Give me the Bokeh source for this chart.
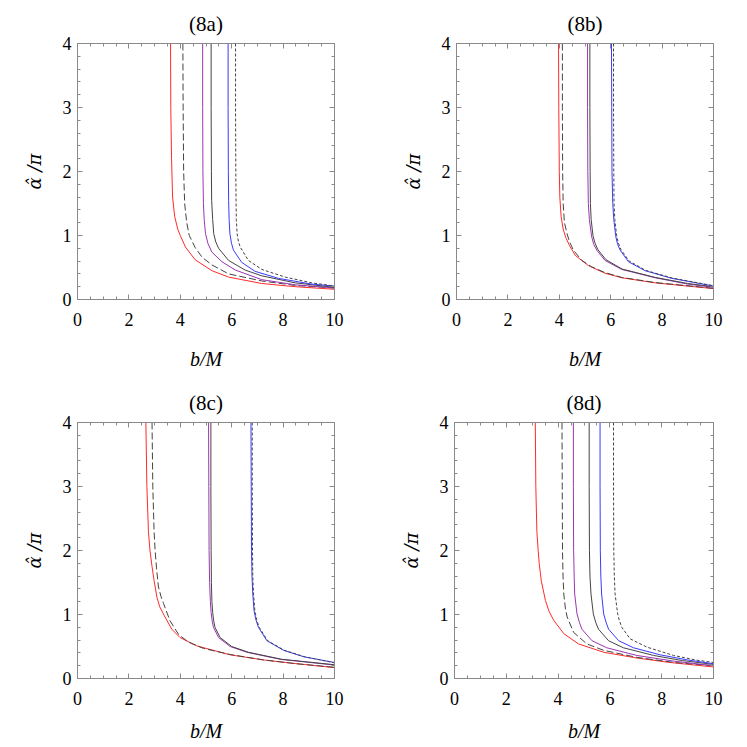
from bokeh.plotting import figure
from bokeh.models import (Range1d, LinearAxis, SingleIntervalTicker, Title,
                          CustomJSTickFormatter)
from bokeh.layouts import column, row
from bokeh.embed import file_html
from bokeh.resources import INLINE

# ---------------- data ----------------
PANEL_TITLES = ["(8a)", "(8b)", "(8c)", "(8d)"]
X_LABEL = "b/M"
Y_LABEL = "\u03b1\u0302 /\u03c0"

# order of curves in each panel: red, long dash, purple, black, blue, short dash
# panel (8a)
a_red_b = [3.62, 3.63, 3.66, 3.70, 3.78, 3.90, 4.00, 4.20, 4.58, 5.23, 5.88, 7.17, 8.47, 10.0]
a_red_y = [4.00, 3.00, 2.20, 1.60, 1.30, 1.10, 1.00, 0.82, 0.62, 0.45, 0.35, 0.25, 0.20, 0.16]
a_ldash_b = [4.10, 4.11, 4.13, 4.17, 4.25, 4.35, 4.58, 4.85, 5.23, 5.88, 7.17, 8.47, 10.0]
a_ldash_y = [4.00, 3.00, 2.00, 1.50, 1.20, 1.00, 0.81, 0.66, 0.54, 0.40, 0.29, 0.22, 0.18]
a_purple_b = [4.87, 4.87, 4.88, 4.90, 4.93, 4.98, 5.08, 5.23, 5.62, 6.14, 7.17, 8.47, 10.0]
a_purple_y = [4.00, 3.00, 2.00, 1.50, 1.25, 1.03, 0.87, 0.74, 0.59, 0.46, 0.31, 0.23, 0.18]
a_black_b = [5.20, 5.20, 5.21, 5.22, 5.26, 5.30, 5.38, 5.49, 5.88, 6.52, 7.17, 8.47, 10.0]
a_black_y = [4.00, 3.00, 2.00, 1.55, 1.25, 1.03, 0.90, 0.80, 0.61, 0.46, 0.37, 0.26, 0.19]
a_blue_b = [5.86, 5.86, 5.87, 5.88, 5.90, 5.93, 5.99, 6.07, 6.39, 6.91, 7.82, 9.12, 10.0]
a_blue_y = [4.00, 3.00, 2.00, 1.55, 1.25, 1.03, 0.88, 0.77, 0.58, 0.44, 0.33, 0.24, 0.21]
a_sdash_b = [6.15, 6.15, 6.16, 6.17, 6.18, 6.21, 6.26, 6.33, 6.65, 7.17, 8.08, 9.12, 10.0]
a_sdash_y = [4.00, 3.00, 2.00, 1.55, 1.25, 1.03, 0.91, 0.82, 0.61, 0.47, 0.35, 0.26, 0.21]

# panel (8b)
b_red_b = [3.97, 3.98, 4.00, 4.02, 4.07, 4.15, 4.25, 4.40, 4.62, 5.13, 5.78, 6.43, 7.73, 10.0]
b_red_y = [4.00, 3.00, 2.00, 1.60, 1.30, 1.10, 0.97, 0.84, 0.69, 0.53, 0.41, 0.34, 0.26, 0.17]
b_ldash_b = [4.12, 4.12, 4.13, 4.15, 4.20, 4.30, 4.40, 4.55, 4.88, 5.26, 5.78, 6.43, 7.73, 10.0]
b_ldash_y = [4.00, 3.00, 2.00, 1.50, 1.20, 1.03, 0.90, 0.77, 0.61, 0.51, 0.42, 0.345, 0.265, 0.175]
b_purple_b = [5.10, 5.10, 5.11, 5.13, 5.17, 5.26, 5.34, 5.46, 5.78, 6.43, 7.73, 9.00, 10.0]
b_purple_y = [4.00, 3.00, 2.00, 1.50, 1.25, 0.98, 0.86, 0.77, 0.61, 0.47, 0.34, 0.24, 0.19]
b_black_b = [5.19, 5.19, 5.20, 5.21, 5.24, 5.31, 5.39, 5.50, 5.82, 6.45, 7.73, 9.00, 10.0]
b_black_y = [4.00, 3.00, 2.00, 1.50, 1.25, 1.00, 0.88, 0.78, 0.62, 0.475, 0.345, 0.25, 0.20]
b_blue_b = [6.03, 6.04, 6.05, 6.08, 6.12, 6.20, 6.27, 6.37, 6.69, 7.34, 8.38, 10.0]
b_blue_y = [4.00, 3.00, 2.00, 1.50, 1.25, 0.98, 0.86, 0.77, 0.59, 0.45, 0.33, 0.21]
b_sdash_b = [6.11, 6.11, 6.12, 6.13, 6.16, 6.23, 6.30, 6.40, 6.72, 7.36, 8.40, 10.0]
b_sdash_y = [4.00, 3.00, 2.00, 1.50, 1.25, 1.00, 0.88, 0.78, 0.60, 0.455, 0.335, 0.215]

# panel (8c)
c_red_b = [2.66, 2.70, 2.76, 2.82, 2.90, 2.98, 3.09, 3.20, 3.38, 3.67, 3.99, 4.64, 5.94, 7.24, 8.54, 10.0]
c_red_y = [4.00, 3.00, 2.30, 2.00, 1.75, 1.53, 1.27, 1.12, 0.98, 0.77, 0.64, 0.51, 0.37, 0.29, 0.23, 0.17]
c_ldash_b = [2.90, 2.93, 2.98, 3.02, 3.08, 3.15, 3.25, 3.35, 3.60, 3.93, 4.31, 4.90, 5.94, 7.24, 8.54, 10.0]
c_ldash_y = [4.00, 3.00, 2.30, 2.00, 1.70, 1.43, 1.28, 1.17, 0.90, 0.69, 0.57, 0.47, 0.375, 0.29, 0.23, 0.175]
c_purple_b = [5.10, 5.11, 5.12, 5.14, 5.17, 5.20, 5.24, 5.29, 5.49, 5.94, 6.59, 7.89, 10.0]
c_purple_y = [4.00, 3.00, 2.00, 1.50, 1.20, 1.03, 0.90, 0.80, 0.64, 0.50, 0.41, 0.30, 0.21]
c_black_b = [5.19, 5.19, 5.20, 5.21, 5.23, 5.26, 5.30, 5.35, 5.55, 6.00, 6.65, 7.95, 10.0]
c_black_y = [4.00, 3.00, 2.00, 1.50, 1.20, 1.03, 0.90, 0.80, 0.64, 0.50, 0.41, 0.30, 0.215]
c_blue_b = [6.75, 6.76, 6.77, 6.79, 6.82, 6.87, 6.94, 7.04, 7.37, 8.02, 8.80, 10.0]
c_blue_y = [4.00, 3.00, 2.00, 1.60, 1.32, 1.06, 0.92, 0.80, 0.59, 0.44, 0.34, 0.25]
c_sdash_b = [6.80, 6.80, 6.81, 6.82, 6.85, 6.90, 6.97, 7.07, 7.40, 8.05, 8.83, 10.0]
c_sdash_y = [4.00, 3.00, 2.00, 1.60, 1.32, 1.06, 0.92, 0.80, 0.59, 0.44, 0.34, 0.245]

# panel (8d)
d_red_b = [3.12, 3.14, 3.18, 3.23, 3.27, 3.35, 3.51, 3.65, 3.83, 4.22, 4.79, 5.76, 7.04, 8.33, 10.0]
d_red_y = [4.00, 3.00, 2.30, 2.00, 1.80, 1.53, 1.22, 1.05, 0.91, 0.70, 0.54, 0.41, 0.32, 0.25, 0.18]
d_ldash_b = [4.15, 4.16, 4.17, 4.19, 4.22, 4.28, 4.35, 4.60, 5.11, 5.76, 7.04, 8.50, 10.0]
d_ldash_y = [4.00, 3.00, 2.00, 1.60, 1.32, 1.10, 0.96, 0.72, 0.54, 0.44, 0.33, 0.25, 0.20]
d_purple_b = [4.59, 4.59, 4.60, 4.62, 4.64, 4.73, 4.82, 4.92, 5.31, 5.88, 7.04, 8.50, 10.0]
d_purple_y = [4.00, 3.00, 2.00, 1.60, 1.32, 1.01, 0.88, 0.77, 0.59, 0.48, 0.36, 0.27, 0.20]
d_black_b = [5.20, 5.20, 5.21, 5.23, 5.27, 5.36, 5.45, 5.56, 5.95, 6.52, 7.69, 8.80, 10.0]
d_black_y = [4.00, 3.00, 2.00, 1.60, 1.32, 1.01, 0.88, 0.77, 0.59, 0.48, 0.36, 0.28, 0.22]
d_blue_b = [5.62, 5.62, 5.63, 5.65, 5.68, 5.76, 5.85, 5.95, 6.34, 6.91, 7.94, 9.00, 10.0]
d_blue_y = [4.00, 3.00, 2.00, 1.60, 1.32, 1.01, 0.88, 0.77, 0.59, 0.48, 0.37, 0.29, 0.23]
d_sdash_b = [6.14, 6.14, 6.15, 6.17, 6.20, 6.30, 6.37, 6.46, 6.78, 7.43, 8.46, 9.30, 10.0]
d_sdash_y = [4.00, 3.00, 2.00, 1.60, 1.32, 1.01, 0.90, 0.80, 0.62, 0.49, 0.36, 0.29, 0.25]

PANELS = [
    [(a_red_b, a_red_y), (a_ldash_b, a_ldash_y), (a_purple_b, a_purple_y),
     (a_black_b, a_black_y), (a_blue_b, a_blue_y), (a_sdash_b, a_sdash_y)],
    [(b_red_b, b_red_y), (b_ldash_b, b_ldash_y), (b_purple_b, b_purple_y),
     (b_black_b, b_black_y), (b_blue_b, b_blue_y), (b_sdash_b, b_sdash_y)],
    [(c_red_b, c_red_y), (c_ldash_b, c_ldash_y), (c_purple_b, c_purple_y),
     (c_black_b, c_black_y), (c_blue_b, c_blue_y), (c_sdash_b, c_sdash_y)],
    [(d_red_b, d_red_y), (d_ldash_b, d_ldash_y), (d_purple_b, d_purple_y),
     (d_black_b, d_black_y), (d_blue_b, d_blue_y), (d_sdash_b, d_sdash_y)],
]

# ---------------- styling ----------------
STYLES = [
    dict(line_color="#ff2a2a", line_dash="solid"),
    dict(line_color="#444444", line_dash="7 3"),
    dict(line_color="#9b35b0", line_dash="solid"),
    dict(line_color="#444444", line_dash="solid"),
    dict(line_color="#3a3aff", line_dash="solid"),
    dict(line_color="#444444", line_dash="3 2"),
]
FONT = "Liberation Serif"
YLABEL_FONT = "DejaVu Serif"
FRAME_COLOR = "#8a8a8a"

# (width, height, left, top, bottom, frame width, x-label standoff)
GEOM = [
    (380, 376, 77, 43, 77, 257, 19),
    (353, 376, 76, 43, 77, 257, 19),
    (380, 370, 77, 46, 68, 257, 12),
    (353, 370, 74, 46, 68, 259, 12),
]


def style_axis(ax, show_labels):
    ax.axis_line_color = FRAME_COLOR
    ax.major_tick_line_color = FRAME_COLOR
    ax.minor_tick_line_color = FRAME_COLOR
    ax.major_tick_in = 5
    ax.major_tick_out = 0
    ax.minor_tick_in = 3
    ax.minor_tick_out = 0
    if show_labels:
        ax.major_label_text_font = FONT
        ax.major_label_text_font_size = "18px"
        ax.major_label_text_font_style = "normal"
        ax.major_label_text_color = "black"
    else:
        ax.formatter = CustomJSTickFormatter(code="return '';")
        ax.major_label_text_font_size = "0px"
        ax.major_label_standoff = 0
        ax.axis_label = None


def make_panel(i):
    w, h, l, t, b, fw, xls = GEOM[i]
    r = w - l - fw
    p = figure(width=w, height=h, x_range=Range1d(0, 10), y_range=Range1d(0, 4),
               output_backend="svg", toolbar_location=None,
               min_border_left=l, min_border_right=r,
               min_border_top=t, min_border_bottom=b,
               x_axis_label=X_LABEL, y_axis_label=Y_LABEL)
    p.title = Title(text=PANEL_TITLES[i], align="center", text_font=FONT,
                    text_font_size="21px", text_font_style="normal",
                    text_color="black", standoff=16)
    p.xgrid.grid_line_color = None
    p.ygrid.grid_line_color = None
    p.outline_line_color = FRAME_COLOR
    p.background_fill_color = "white"
    p.border_fill_color = "white"

    p.xaxis.ticker = SingleIntervalTicker(interval=2, num_minor_ticks=4)
    p.yaxis.ticker = SingleIntervalTicker(interval=1, num_minor_ticks=5)
    style_axis(p.xaxis[0], True)
    style_axis(p.yaxis[0], True)
    p.xaxis.major_label_standoff = 13
    p.xaxis.axis_label_standoff = xls
    p.xaxis.axis_label_text_font = FONT
    p.xaxis.axis_label_text_font_style = "italic"
    p.xaxis.axis_label_text_font_size = "20px"
    p.xaxis.axis_label_text_color = "black"
    p.yaxis.major_label_standoff = 6
    p.yaxis.axis_label_standoff = 15
    p.yaxis.axis_label_text_font = YLABEL_FONT
    p.yaxis.axis_label_text_font_style = "italic"
    p.yaxis.axis_label_text_font_size = "18px"
    p.yaxis.axis_label_text_color = "black"

    top = LinearAxis(ticker=SingleIntervalTicker(interval=2, num_minor_ticks=4))
    right = LinearAxis(ticker=SingleIntervalTicker(interval=1, num_minor_ticks=5))
    style_axis(top, False)
    style_axis(right, False)
    p.add_layout(top, "above")
    p.add_layout(right, "right")

    for (bs, ys), st in zip(PANELS[i], STYLES):
        p.line(bs, ys, line_width=1.0, **st)
    return p


panels = [make_panel(i) for i in range(4)]
layout = column(row(panels[0], panels[1]), row(panels[2], panels[3]))
open("out.html", "w").write(file_html(layout, INLINE))
